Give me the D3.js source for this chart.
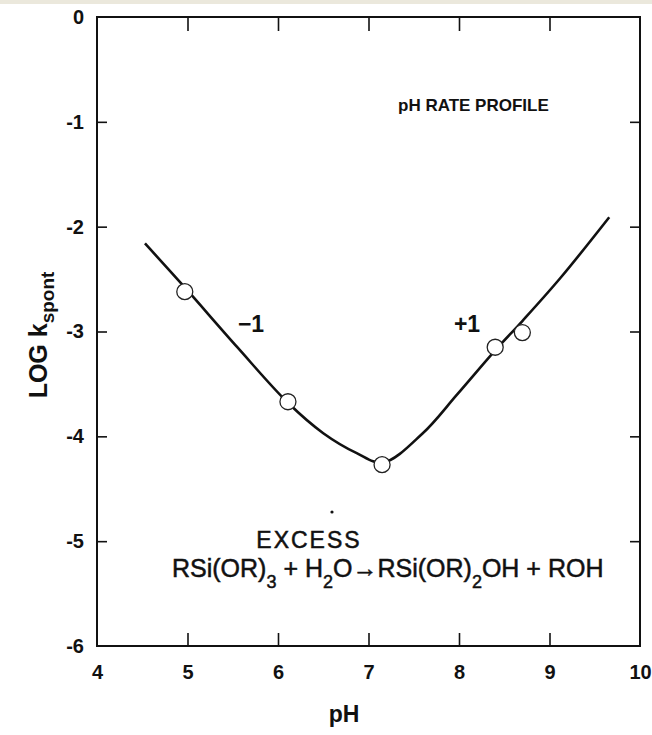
<!DOCTYPE html>
<html>
<head>
<meta charset="utf-8">
<script src="https://cdn.jsdelivr.net/npm/d3@7"></script>
<style>
  body { margin: 0; background: #fff; }
  svg { display: block; font-family: "Liberation Sans", Arial, sans-serif; }
  .tick text { font-weight: bold; fill: #111; }
</style>
</head>
<body>
<div id="chart"></div>
<script>
// data
var phTicks = [4, 5, 6, 7, 8, 9, 10];
var logTicks = [0, -1, -2, -3, -4, -5, -6];

// fitted rate profile line
var curvePH  = [4.53, 4.97, 5.55, 6.11, 6.50, 6.87, 7.16, 7.60, 7.98, 8.40, 8.70, 9.12, 9.66];
var curveLog = [-2.16, -2.58, -3.15, -3.68, -3.97, -4.16, -4.25, -3.97, -3.60, -3.18, -2.90, -2.49, -1.91];

// measured points
var pointPH  = [4.97, 6.11, 7.15, 8.40, 8.70];
var pointLog = [-2.62, -3.67, -4.27, -3.15, -3.01];

var width = 652, height = 735;

var svg = d3.select('#chart')
    .append('svg')
    .attr('width', width)
    .attr('height', height);

// thin beige strip at the very top of the scan
svg.append('rect')
    .attr('x', 0).attr('y', 0)
    .attr('width', width).attr('height', 4)
    .attr('fill', '#ebe8dc');

var x = d3.scaleLinear().domain([4, 10]).range([97, 640]),
    y = d3.scaleLinear().domain([-6, 0]).range([646, 17]);

var fmt = function (d) { return String(d); };

// bottom axis, ticks pointing in
svg.append('g')
    .attr('transform', 'translate(0,' + y(-6) + ')')
    .call(d3.axisBottom(x).tickValues(phTicks.slice(1, -1)).tickSize(-13).tickSizeOuter(0).tickFormat(''))
    .select('.domain').remove();

// bottom labels, including the end values
svg.append('g')
    .attr('transform', 'translate(0,' + y(-6) + ')')
    .call(d3.axisBottom(x).tickValues(phTicks).tickSize(0).tickPadding(19).tickFormat(fmt))
    .call(function (g) {
        g.select('.domain').remove();
        g.selectAll('text').attr('font-size', 20).attr('dy', '0.71em');
    });

// top axis
svg.append('g')
    .attr('transform', 'translate(0,' + y(0) + ')')
    .call(d3.axisTop(x).tickValues(phTicks.slice(1, -1)).tickSize(-14).tickFormat(''))
    .select('.domain').remove();

// left axis
svg.append('g')
    .attr('transform', 'translate(' + x(4) + ',0)')
    .call(d3.axisLeft(y).tickValues(logTicks.slice(1, -1)).tickSize(-10).tickFormat(''))
    .select('.domain').remove();

svg.append('g')
    .attr('transform', 'translate(' + x(4) + ',0)')
    .call(d3.axisLeft(y).tickValues(logTicks).tickSize(0).tickPadding(13).tickFormat(fmt))
    .call(function (g) {
        g.select('.domain').remove();
        g.selectAll('text').attr('font-size', 20);
    });

// right axis
svg.append('g')
    .attr('transform', 'translate(' + x(10) + ',0)')
    .call(d3.axisRight(y).tickValues(logTicks.slice(1, -1)).tickSize(-10).tickFormat(''))
    .select('.domain').remove();

svg.selectAll('.tick line').attr('stroke', '#111').attr('stroke-width', 1.6);

// frame
svg.append('rect')
    .attr('x', x(4)).attr('y', y(0))
    .attr('width', x(10) - x(4)).attr('height', y(-6) - y(0))
    .attr('fill', 'none')
    .attr('stroke', '#111')
    .attr('stroke-width', 2);

// curve
var line = d3.line()
    .x(function (d) { return x(d[0]); })
    .y(function (d) { return y(d[1]); })
    .curve(d3.curveCatmullRom.alpha(0.5));

svg.append('path')
    .datum(d3.zip(curvePH, curveLog))
    .attr('d', line)
    .attr('fill', 'none')
    .attr('stroke', '#111')
    .attr('stroke-width', 2.6);

svg.selectAll('.pt')
    .data(d3.zip(pointPH, pointLog))
    .enter().append('circle')
    .attr('class', 'pt')
    .attr('cx', function (d) { return x(d[0]); })
    .attr('cy', function (d) { return y(d[1]); })
    .attr('r', 8)
    .attr('fill', '#fff')
    .attr('stroke', '#222')
    .attr('stroke-width', 1.3);

// annotations
svg.append('text')
    .attr('x', 398).attr('y', 111)
    .attr('font-size', 17)
    .attr('font-weight', 'bold')
    .attr('fill', '#111')
    .text('pH RATE PROFILE');

svg.append('text')
    .attr('x', 251).attr('y', 332)
    .attr('text-anchor', 'middle')
    .attr('font-size', 23)
    .attr('font-weight', 'bold')
    .attr('fill', '#111')
    .text('\u22121');

svg.append('text')
    .attr('x', 467).attr('y', 332)
    .attr('text-anchor', 'middle')
    .attr('font-size', 23)
    .attr('font-weight', 'bold')
    .attr('fill', '#111')
    .text('+1');

svg.append('circle')
    .attr('cx', 332).attr('cy', 512)
    .attr('r', 1.6)
    .attr('fill', '#111');

svg.append('text')
    .attr('x', 309).attr('y', 548)
    .attr('text-anchor', 'middle')
    .attr('font-size', 23)
    .attr('letter-spacing', 2)
    .attr('fill', '#111')
    .attr('stroke', '#111')
    .attr('stroke-width', 0.5)
    .text('EXCESS');

var eq = svg.append('text')
    .attr('x', 172).attr('y', 577)
    .attr('font-size', 25)
    .attr('fill', '#111')
    .attr('stroke', '#111')
    .attr('stroke-width', 0.5);
eq.append('tspan').text('RSi(OR)');
eq.append('tspan').attr('dy', 11).attr('font-size', 18).text('3');
eq.append('tspan').attr('dy', -11).text(' + H');
eq.append('tspan').attr('dy', 11).attr('font-size', 18).text('2');
eq.append('tspan').attr('dy', -11).text('O\u2192RSi(OR)');
eq.append('tspan').attr('dy', 11).attr('font-size', 18).text('2');
eq.append('tspan').attr('dy', -11).text('OH + ROH');

// axis titles
var yl = svg.append('text')
    .attr('transform', 'translate(47,335) rotate(-90)')
    .attr('text-anchor', 'middle')
    .attr('font-size', 25)
    .attr('font-weight', 'bold')
    .attr('fill', '#111');
yl.append('tspan').text('LOG k');
yl.append('tspan').attr('dy', 7).attr('font-size', 19).text('spont');

svg.append('text')
    .attr('x', 344).attr('y', 722)
    .attr('text-anchor', 'middle')
    .attr('font-size', 23)
    .attr('font-weight', 'bold')
    .attr('fill', '#111')
    .text('pH');
</script>
</body>
</html>
